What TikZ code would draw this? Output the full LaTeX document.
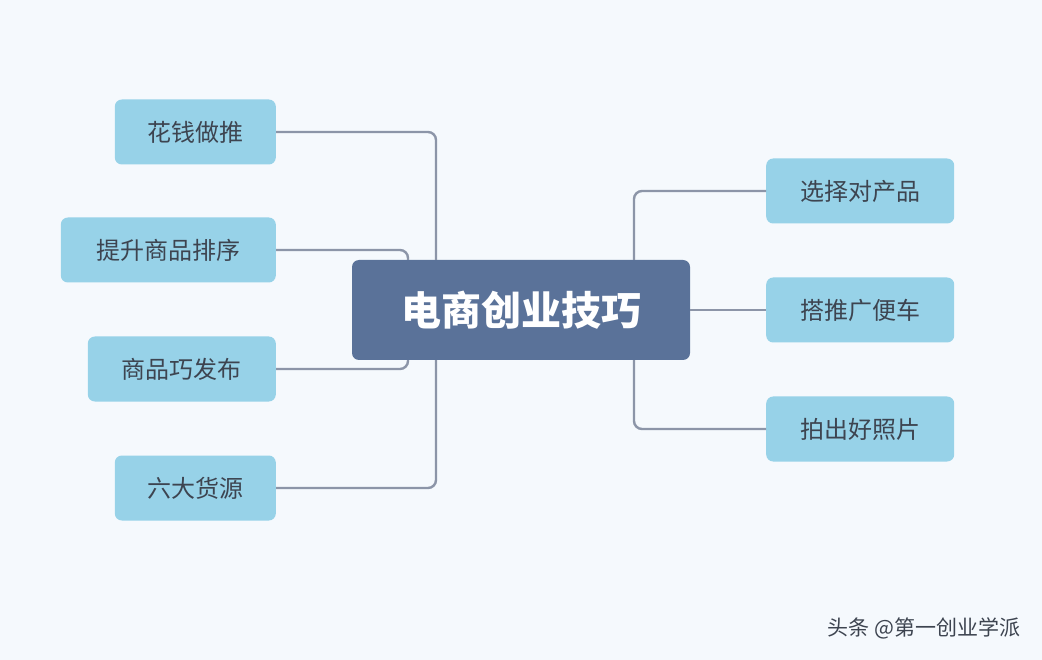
\documentclass[tikz,border=0pt]{standalone}
\usepackage{fontspec}
\setmainfont{Noto Sans CJK SC}
\begin{document}
\begin{tikzpicture}[x=1pt,y=-1pt,
  leaf/.style={fill=leafc,rounded corners=7pt,minimum height=65pt,inner sep=0pt,text=txt,font=\fontsize{24}{28}\selectfont,anchor=east},
  rleaf/.style={leaf,anchor=west,minimum width=188pt},
  conn/.style={draw=linec,line width=2.4pt,rounded corners=8pt}]
\definecolor{bg}{HTML}{F5F9FD}
\definecolor{leafc}{HTML}{97D2E8}
\definecolor{mainc}{HTML}{5A7299}
\definecolor{linec}{HTML}{8C95A8}
\definecolor{txt}{HTML}{3D4450}
\fill[bg] (0,0) rectangle (1042,660);
\useasboundingbox (0,0) rectangle (1042,660);
\node[fill=mainc,rounded corners=7pt,minimum width=338pt,minimum height=100pt,text=white,font=\fontsize{40}{46}\selectfont\bfseries] (c) at (521,310) {电商创业技巧};
\node[leaf,minimum width=161pt] (l1) at (276,132) {花钱做推};
\node[leaf,minimum width=215pt] (l2) at (276,250) {提升商品排序};
\node[leaf,minimum width=188pt] (l3) at (276,369) {商品巧发布};
\node[leaf,minimum width=161pt] (l4) at (276,488) {六大货源};
\node[rleaf] (r1) at (766,191) {选择对产品};
\node[rleaf] (r2) at (766,310) {搭推广便车};
\node[rleaf] (r3) at (766,429) {拍出好照片};
\coordinate (ax) at (436,0);
\coordinate (bx) at (408,0);
\coordinate (rx) at (634,0);
\draw[conn] (l1.east) -- (l1.east -| ax) -- (ax |- c.north);
\draw[conn] (l2.east) -- (l2.east -| bx) -- (bx |- c.north);
\draw[conn] (l3.east) -- (l3.east -| bx) -- (bx |- c.south);
\draw[conn] (l4.east) -- (l4.east -| ax) -- (ax |- c.south);
\draw[conn] (rx |- c.north) -- (rx |- r1.west) -- (r1.west);
\draw[conn] (c.east) -- (r2.west);
\draw[conn] (rx |- c.south) -- (rx |- r3.west) -- (r3.west);
\node[text=txt,font=\fontsize{21}{24}\selectfont,anchor=east] (wm) at (1024,628) {头条 @第一创业学派};
\end{tikzpicture}
\end{document}
